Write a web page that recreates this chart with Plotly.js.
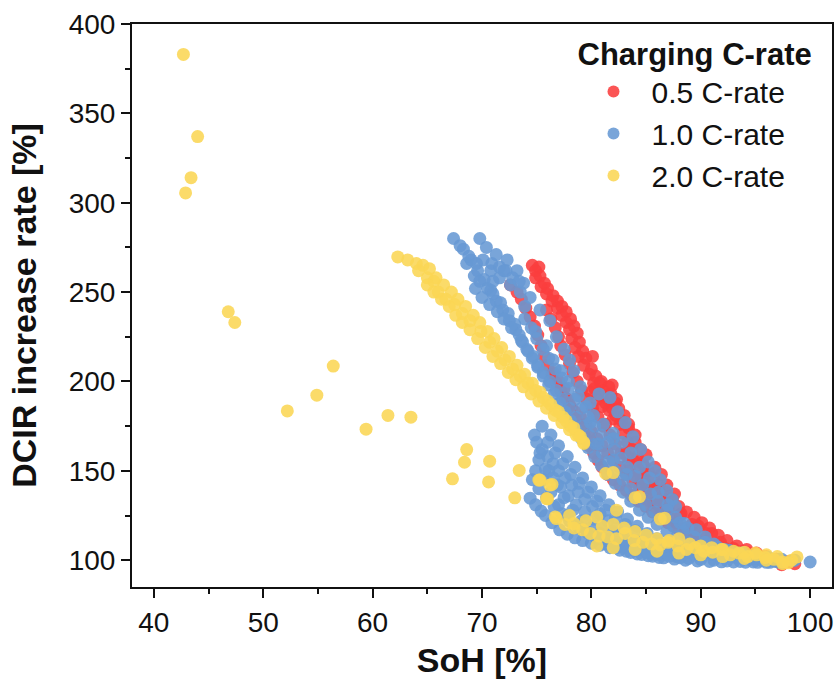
<!DOCTYPE html>
<html>
<head>
<meta charset="utf-8">
<script src="https://cdn.plot.ly/plotly-3.0.1.min.js"></script>
<style>
html,body{margin:0;padding:0;background:#fff;}
#chart{width:838px;height:684px;}
</style>
</head>
<body>
<div id="chart"></div>
<script>
// ---- Data (SoH [%], DCIR increase rate [%]) ----
const seriesNames = ["0.5 C-rate", "1.0 C-rate", "2.0 C-rate"];

// 0.5 C-rate
const soh05 = [
  74.6,74.9,75.2,75.3,75.7,76.0,76.5,76.9,77.3,77.7,78.1,78.4,78.7,78.9,79.2,79.5,80.1,80.0,80.4,80.8,
  81.1,81.5,81.9,82.2,82.6,82.9,83.3,83.7,84.2,84.7,85.2,85.7,86.2,86.8,87.4,88.0,88.7,89.4,90.1,90.8,
  91.6,92.4,93.3,94.2,95.1,96.0,96.9,97.8,98.6,
  72.6,73.2,73.6,74.0,74.4,74.8,75.1,75.4,75.7,76.0,76.4,76.8,77.2,77.6,78.0,78.5,79.0,79.5,80.0,80.5,
  81.0,81.5,82.0,82.6,83.2,83.8,84.4,85.0,85.7,86.4,87.1,87.8,88.6,89.4,90.3,91.2,92.1,93.0,94.0,95.0,
  96.0,97.0,
  76.5,77.0,77.5,77.8,78.2,78.6,79.0,79.4,79.8,80.2,80.6,81.0,81.5,82.0,82.6,83.2,83.7,84.3,85.0,85.6,
  86.3,87.0,87.8,88.6,89.5,90.4,91.4,92.4,93.4,94.5,95.6,96.7,
  75.9,76.3,76.7,77.0,77.2,77.6,78.0,78.3,78.7,79.1,79.6,80.1,80.6,81.1,81.7,82.2,82.7,83.4,84.1,84.8,
  85.5,86.2,87.0,88.1,89.2,90.5,91.8,93.0,94.3,95.6,96.9,98.1,
  74.9,75.4,75.9,76.4,76.9,77.3,77.7,78.0,78.2,78.5,78.8,79.3,79.8,80.2,
  80.3,80.8,81.3,81.8,82.3,80.9,81.6,82.5,83.0,82.0,83.4,84.0,84.5,85.0,85.8,86.4,
  83.5,84.2,85.0,85.9,86.6,84.7,85.4,86.2,87.0,84.9,84.0,83.3,86.9,87.6,
  80.5,81.0,81.6,82.2,82.8,83.4,84.0,81.9,83.0,80.2,81.3,79.9,84.6,85.5,86.6,88.2,89.8,91.0,93.8,97.4
];
const dcir05 = [
  265,262,264,259,255,252,248,245,242,239,235,231,227,222,217,213,214,207,203,199,
  195,190,185,181,176,171,166,162,158,154,150,146,142,138,134,130,127,124,121,118,
  114,111,108,106,104,102,100.5,99,98,
  254,250,246,241,236,231,226,220,214,209,204,199,195,191,187,183,180,176,172,168,
  164,160,156,152,148,144,140,136,132,128,124,121,118,115,112,109,107,105,103,101.5,
  100.5,99.5,
  205,200,196,190,185,179,174,169,164,160,156,152,148,145,142,139,136,133,130,127,
  124,121,118,115,112,110,108,106,104,102,101,100,
  240,235,230,225,220,215,210,205,200,195,190,185,180,175,170,165,160,155,150,145,
  140,135,130,125,120,115,110,106.5,104,102,100.5,99.2,
  258,253,249,245,241,237,233,229,224,219,214,209,204,199,
  196,192,188,193,190,200,197,185,181,179,176,166,162,159,152,148,
  150,146,142,139,136,138,133,130,128,152,155,158,142,137,
  190,186,184,188,178,174,170,198,160,182,176,194,146,140,134,126,119,115,105,97.5
];

// 1.0 C-rate
const soh10 = [
  67.4,68.3,69.0,69.6,70.2,70.8,71.3,71.9,72.5,73.1,73.6,74.1,74.6,75.1,75.6,76.1,76.6,77.1,77.6,78.1,
  78.6,79.1,79.7,80.3,80.9,81.5,82.2,82.9,83.6,84.4,85.2,86.0,86.9,87.8,88.8,89.8,90.9,92.0,93.2,94.4,
  95.6,96.8,
  69.8,70.4,71.3,72.3,73.2,73.8,74.4,75.3,76.2,76.8,77.5,78.0,78.4,79.0,79.9,80.7,81.7,82.4,83.1,83.8,
  84.5,85.2,85.8,86.3,86.9,87.4,87.7,88.1,88.8,89.6,90.4,91.2,92.2,93.3,94.6,95.9,97.2,98.5,100.0,
  68.6,69.3,69.8,70.5,71.0,71.7,72.4,73.0,73.7,74.2,74.7,75.1,75.6,76.2,76.8,77.4,78.0,78.6,79.2,79.8,
  80.4,81.0,81.6,82.2,82.9,83.6,84.3,85.0,85.8,86.6,87.5,88.4,89.4,90.4,91.5,92.6,93.8,95.0,96.2,97.4,
  98.6,
  70.8,71.6,72.6,73.5,72.0,71.0,73.9,74.9,75.9,76.5,77.2,77.9,78.8,79.5,80.2,81.1,82.0,82.8,83.6,84.4,
  85.3,86.1,87.0,80.6,82.0,79.9,82.0,83.2,
  68.0,68.8,69.5,70.1,70.9,71.6,72.2,72.8,73.4,69.4,70.0,70.7,71.4,72.0,72.7,73.4,73.9,74.5,75.0,75.6,
  76.1,76.7,77.3,77.9,78.5,79.1,79.7,80.3,80.9,81.5,82.1,82.7,83.3,84.0,84.7,85.4,86.1,86.9,87.7,88.5,
  74.8,75.0,75.5,76.0,76.5,77.0,77.6,78.2,78.8,79.4,80.1,80.8,81.5,82.3,83.1,84.0,84.9,85.8,86.8,87.8,
  88.9,90.0,91.2,92.4,93.6,94.8,96.0,97.2,
  74.4,74.9,75.4,75.8,76.4,77.1,77.8,78.5,79.2,80.0,80.8,81.7,82.6,83.6,84.6,85.6,86.6,87.6,88.6,89.7,
  90.8,91.9,93.0,94.1,95.2,96.3,97.4,
  75.5,76.3,77.0,77.8,78.5,79.2,80.0,80.8,81.6,82.4,83.3,84.2,85.1,86.0,87.0,88.0,89.0,90.0,91.0,92.0,
  93.0,94.0,95.0,96.0,97.0,
  75.3,76.1,76.9,77.5,78.3,79.1,79.9,80.8,81.7,82.6,83.5,84.5,85.5,74.9,75.6,76.3,77.0,77.8,78.7,79.6,
  80.5,81.4,82.3,83.2,84.2,85.2,86.2,
  75.2,75.8,76.5,77.2,77.9,78.6,79.4,80.2,81.0,81.9,82.8,83.7,84.7,85.7,86.7,87.7,
  74.6,75.2,75.9,76.6,77.3,78.0,78.8,79.6,80.4,81.3,82.2,83.1,84.1,85.1,86.1,87.1,88.1,
  76.0,76.7,77.4,78.1,78.9,79.7,80.5,81.3,82.2,83.1,84.0,84.9,85.9,86.9,87.9,88.9,89.9
];
const dcir10 = [
  280,274,268,262,257,251,245,240,234,229,223,218,213,208,203,198,193,188,183,178,
  173,168,163,158,153,148,143,138,133,128,124,120,116,113,110,107,105,103,101.5,100.5,
  99.8,99.3,
  280,275,271,268,262,255,247,240,234,225,218,212,206,197,188,193,191,183,177,169,
  162,155,150,145,139,134,130,121,118,117,113,109,106,104,102,101,100.5,100,99,
  266,259,256,252,249,244,238,232,222,217,214,209,205,200,195,190,185,180,175,170,
  165,160,155,150,145,140,135,131,127,123,119,116,113,110,107.5,105.5,104,102.5,101.5,100.5,
  100,
  262,258,254,250,262,256,242,228,220,212,206,200,192,186,181,176,171,166,160,152,
  146,138,131,165,168,177,156,148,
  276,270,266,268,266,264,262,258,256,252,247,243,239,235,230,226,235,230,224,218,
  213,207,202,196,190,185,180,175,170,166,162,157,152,147,142,137,133,128,124,120.5,
  170,166,162,158,154,150,146,142,138,134,130,126,122,118,114,111,108,105.5,103.5,102,
  101,100.5,100,99.6,99.3,99,98.8,98.7,
  134.7,131,127.5,125,121,117,114.5,112.5,111,109.5,108.4,107,105.6,104.3,103.2,102.2,101.3,100.6,100,99.6,
  99.3,99.1,99,98.9,98.8,98.8,98.9,
  175,170,164,158,152,146,141,136,131,127,123,119,115,112,109,107,105.5,104.5,103.5,102.5,
  102,101.5,101,100.5,100,
  160,150,142,135,128,122,118,115,112,110,108,106,104,150,145,138,131,125,120,116,
  112,109,107,105,103.5,102.5,101.5,
  156,151,146,141,136,131,127,123,119,116,113,110.5,108,106,104.5,103.2,
  145,140,135,130,126,122,118.5,115.5,113,111,109,107.3,105.8,104.4,103.2,102.2,101.4,
  166,160,154,148,143,138,133,128,124,120,116.5,113.5,110.5,108,106,104.5,103.2
];

// 2.0 C-rate
const soh20 = [
  42.7,44.0,43.4,42.9,46.8,47.4,52.2,54.9,56.4,59.4,61.4,63.5,
  68.6,68.4,70.7,67.3,70.6,73.4,73.0,75.2,76.0,76.4,76.8,75.3,75.9,76.2,76.7,78.4,80.5,82.3,
  81.3,82.0,84.0,84.4,86.3,86.7,79.3,
  62.3,63.2,64.0,64.6,65.2,64.2,65.0,65.6,
  65.8,66.5,67.2,67.8,68.5,69.2,69.8,70.5,71.1,71.8,72.5,73.2,73.9,74.6,75.3,76.0,76.7,77.4,78.1,78.8,
  79.3,
  65.0,65.6,66.3,67.0,67.6,68.2,68.9,69.6,70.3,71.0,71.7,72.4,73.1,73.8,74.5,75.2,75.9,76.6,77.3,78.0,
  78.6,
  66.0,66.7,67.5,68.2,68.9,69.9,70.7,71.4,72.1,72.8,73.5,74.2,74.9,75.6,76.3,77.0,77.7,78.4,79.0,
  77.6,78.4,79.2,79.9,80.7,81.5,82.3,83.1,83.9,84.7,85.5,86.3,87.1,87.9,88.7,89.5,90.3,91.1,91.9,92.7,
  93.5,94.3,95.1,95.9,96.7,97.5,98.3,98.8,
  78.0,79.5,81.0,82.0,83.0,84.0,85.0,86.0,87.0,88.0,89.0,90.0,91.0,92.0,93.0,94.0,95.0,96.0,97.0,98.0,
  80.5,82.0,84.0,86.0,88.0,90.0,92.0,94.0,96.0,97.5
];
const dcir20 = [
  383,337,314,305.5,239,233,183.5,192.3,208.6,173.3,181,180,
  161.9,154.8,155.4,145.5,143.8,150.2,134.9,144.8,134.3,142.4,123.3,144.8,134.5,142,124.2,120.5,124.2,128,
  148.5,149,135,135.5,123,123.5,165.3,
  269.7,268,266,265,263,262,258,256,
  258,254,250,246,242,237,233,228,224,219,214,209,204,199,194,189,184,180,175,170,
  166,
  254,250,246,242,237,233,229,224,219,214,210,205,201,197,193,189,185,181,177,173,
  170,
  250,246,243,238,234,228,222,217,212,207,203,199,195,191,187,183,178,174,169,
  120,118,117,115,113.5,113,112,115,111,110,109,108.5,111,108,106,107,105,104.5,106,103,
  104,102,103,101.5,100.5,99,100,101.8,
  125,122,119,120,118,116,114,112,110,112,109,108,107,106,105,104.5,104,103,102,98.5,
  108,107,106,105,104,103,102,101,100,98
];

const xs = [soh05, soh10, soh20];
const ys = [dcir05, dcir10, dcir20];
const colors = ["rgb(250,62,62)", "rgb(102,152,212)", "rgb(250,214,84)"];

const FONT = "Liberation Sans, Arial, sans-serif";

const traces = seriesNames.map((name, i) => ({
  type: "scatter",
  mode: "markers",
  name: name,
  x: xs[i],
  y: ys[i],
  marker: {color: colors[i], size: 13, opacity: 0.88, line: {width: 0}},
  hoverinfo: "x+y+name"
}));

const axisCommon = {
  showline: true, mirror: true, linecolor: "#111", linewidth: 2,
  ticks: "outside", ticklen: 9, tickwidth: 2, tickcolor: "#111",
  showgrid: false, zeroline: false,
  tickfont: {family: FONT, size: 28, color: "#111"}
};

const layout = {
  width: 838, height: 684,
  margin: {l: 132, r: 6, t: 24, b: 97},
  paper_bgcolor: "#fff", plot_bgcolor: "#fff",
  showlegend: true,
  xaxis: Object.assign({}, axisCommon, {
    range: [38, 102], tickvals: [40, 50, 60, 70, 80, 90, 100],
    minor: {dtick: 5, tick0: 0, ticks: "outside", ticklen: 5, tickwidth: 2, tickcolor: "#111"},
    title: {text: "SoH [%]", font: {family: FONT, size: 34, color: "#111", weight: "bold"}, standoff: 12}
  }),
  yaxis: Object.assign({}, axisCommon, {
    range: [85, 400], tickvals: [100, 150, 200, 250, 300, 350, 400],
    minor: {dtick: 25, tick0: 0, ticks: "outside", ticklen: 5, tickwidth: 2, tickcolor: "#111"},
    title: {text: "DCIR increase rate [%]", font: {family: FONT, size: 34, color: "#111", weight: "bold"}, standoff: 22}
  }),
  legend: {
    x: 0.975, xanchor: "right", y: 0.998, yanchor: "top",
    bgcolor: "rgba(0,0,0,0)", borderwidth: 0,
    font: {family: FONT, size: 30, color: "#111"},
    title: {text: "Charging C-rate", side: "top", font: {family: FONT, size: 31, color: "#111", weight: "bold"}},
    itemsizing: "constant", itemwidth: 66, tracegroupgap: 0
  }
};

Plotly.newPlot("chart", traces, layout, {displayModeBar: false, staticPlot: true});
</script>
</body>
</html>
